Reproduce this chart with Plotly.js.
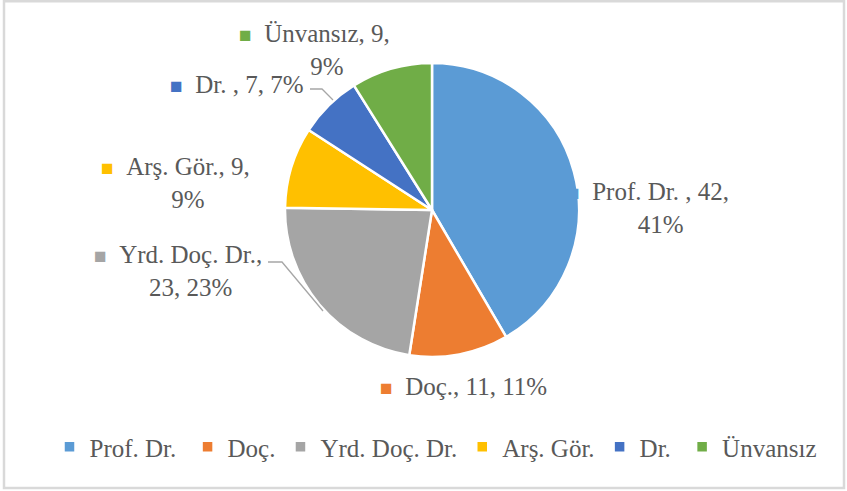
<!DOCTYPE html>
<html><head><meta charset="utf-8">
<script src="https://cdn.plot.ly/plotly-3.0.1.min.js"></script>
<style>html,body{margin:0;padding:0;background:#fff}#chart{width:847px;height:491px}</style>
</head><body><div id="chart"></div>
<script>
// ---- data ----
const categories = ['Prof. Dr. ', 'Doç.', 'Yrd. Doç. Dr.', 'Arş. Gör.', 'Dr. ', 'Ünvansız'];
const counts = [42, 11, 23, 9, 7, 9];
const percents = [41, 11, 23, 9, 7, 9];
const colors = ['#5B9BD5', '#ED7D31', '#A5A5A5', '#FFC000', '#4472C4', '#70AD47'];
// ---- layout helpers ----
const labelBreaks = ['value', 'none', 'name', 'value', 'none', 'value'];
const labelPos = [[660, 208], [463, 386], [190, 271], [188, 183], [237, 84], [327, 50]];
const W = 847, H = 491;
const px = x => x / W;
const py = y => (H - y) / H;
const FONT = 'Liberation Serif, Times New Roman, serif';
const TXT = '#595959';

function buildLabel(i) {
  const c = categories[i], n = counts[i], p = percents[i] + '%';
  let lines;
  if (labelBreaks[i] === 'value') lines = [c + ', ' + n + ',', p];
  else if (labelBreaks[i] === 'name') lines = [c + ',', n + ', ' + p];
  else lines = [c + ', ' + n + ', ' + p];
  const mk = col => '<span style="color:' + col + ';font-size:21px">■</span>';
  lines[0] = mk(colors[i]) + '\u00A0\u00A0' + lines[0];
  if (lines.length > 1) lines[0] += '\u00A0\u00A0' + mk('rgba(0,0,0,0)');
  return lines.join('<br>');
}

const cx = 432, cy = 210, R = 147;
const trace = {
  type: 'pie',
  labels: categories,
  values: counts,
  sort: false,
  direction: 'clockwise',
  rotation: 0,
  textinfo: 'none',
  hoverinfo: 'label+value+percent',
  marker: { colors: colors, line: { color: '#FFFFFF', width: 2.5 } },
  domain: { x: [px(cx - R), px(cx + R)], y: [py(cy + R), py(cy - R)] },
  automargin: false
};

const annotations = categories.map((c, i) => ({
  xref: 'paper', yref: 'paper',
  x: px(labelPos[i][0]), y: py(labelPos[i][1]),
  xanchor: 'center', yanchor: 'middle', align: 'center',
  showarrow: false,
  text: buildLabel(i),
  font: { family: FONT, size: 25, color: TXT }
}));

function pathOf(pts) {
  return pts.map((p, k) => (k ? 'L' : 'M') + px(p[0]) + ',' + py(p[1])).join(' ');
}

const shapes = [
  { type: 'rect', xref: 'paper', yref: 'paper', x0: px(4), x1: px(844), y0: py(488), y1: py(1.2),
    line: { color: '#D9D9D9', width: 2.5 }, fillcolor: 'rgba(0,0,0,0)', layer: 'below' },
  { type: 'path', xref: 'paper', yref: 'paper', path: pathOf([[310, 89], [322, 89], [333, 100]]),
    line: { color: '#A6A6A6', width: 1.3 } },
  { type: 'path', xref: 'paper', yref: 'paper', path: pathOf([[268, 262], [282, 262], [323, 311]]),
    line: { color: '#A6A6A6', width: 1.3 } }
];

const layout = {
  width: W, height: H,
  margin: { l: 0, r: 0, t: 0, b: 0 },
  paper_bgcolor: '#FFFFFF',
  showlegend: true,
  legend: {
    orientation: 'h', x: px(436), xanchor: 'center', y: py(447), yanchor: 'middle',
    font: { family: FONT, size: 25, color: TXT }, itemwidth: 30, traceorder: 'normal'
  },
  annotations: annotations,
  shapes: shapes
};

Plotly.newPlot('chart', [trace], layout, { displayModeBar: false, staticPlot: true });
</script>
</body></html>
